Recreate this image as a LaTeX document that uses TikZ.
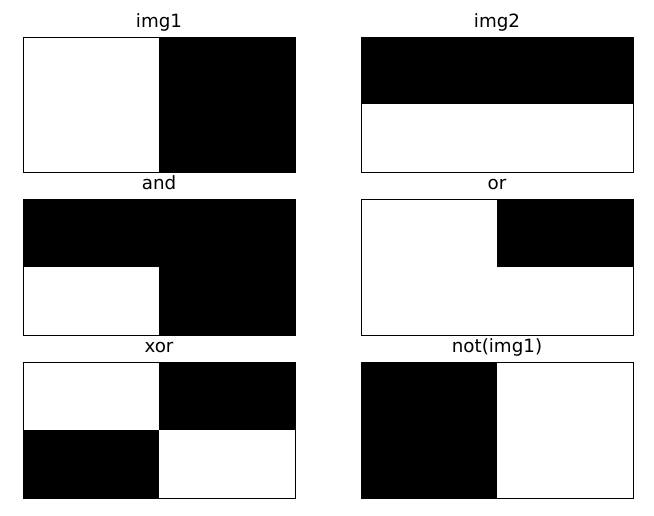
\documentclass[tikz,border=0pt]{standalone}
\usepackage{fontspec}
\setmainfont{DejaVu Sans}
\begin{document}
\begin{tikzpicture}[x=0.75pt,y=-0.75pt,
  frame/.style={draw=black,line width=0.6pt},
  blk/.style={fill=black},
  ttl/.style={anchor=base,inner sep=0pt,font=\fontsize{13.7}{16}\selectfont}]
\useasboundingbox[fill=white] (0,0) rectangle (654,516);
% row 1
\fill[blk] (159,37) rectangle (295,172.5);
\draw[frame] (23,37) rectangle (295,172.5);
\node[ttl] (t1) at (159,27.5) {img1};
\fill[blk] (361,37) rectangle (633,104.5);
\draw[frame] (361,37) rectangle (633,172.5);
\node[ttl] (t2) at (497,27.5) {img2};
% row 2
\fill[blk] (23,199.5) rectangle (295,267.5);
\fill[blk] (159,267.5) rectangle (295,335.5);
\draw[frame] (23,199.5) rectangle (295,335.5);
\node[ttl] (t3) at (159,190) {and};
\fill[blk] (497,199.5) rectangle (633,267.5);
\draw[frame] (361,199.5) rectangle (633,335.5);
\node[ttl] (t4) at (497,190) {or};
% row 3
\fill[blk] (159,362.5) rectangle (295,430.5);
\fill[blk] (23,430.5) rectangle (159,498.5);
\draw[frame] (23,362.5) rectangle (295,498.5);
\node[ttl] (t5) at (159,353) {xor};
\fill[blk] (361,362.5) rectangle (497,498.5);
\draw[frame] (361,362.5) rectangle (633,498.5);
\node[ttl] (t6) at (497,353) {not(img1)};
\end{tikzpicture}
\end{document}
